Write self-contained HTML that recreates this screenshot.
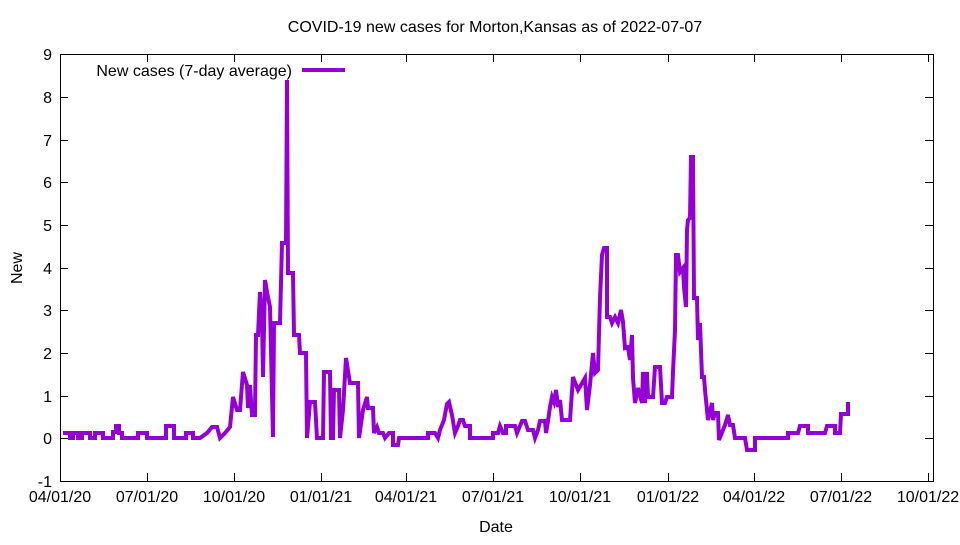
<!DOCTYPE html>
<html><head><meta charset="utf-8"><style>body{margin:0;background:#fff}</style></head><body>
<svg width="960" height="540" xmlns="http://www.w3.org/2000/svg" font-family="Liberation Sans, sans-serif" font-size="16">
<rect width="960" height="540" fill="#fff"/>
<text x="495" y="32" text-anchor="middle">COVID-19 new cases for Morton,Kansas as of 2022-07-07</text>
<g stroke="#000" stroke-width="1" fill="none">
<rect x="60.5" y="54.5" width="873" height="427"/>
<path d="M60 481.5h8M60 438.5h8M60 396.5h8M60 353.5h8M60 310.5h8M60 268.5h8M60 225.5h8M60 182.5h8M60 140.5h8M60 97.5h8M60 54.5h8
M933 481.5h-8M933 438.5h-8M933 396.5h-8M933 353.5h-8M933 310.5h-8M933 268.5h-8M933 225.5h-8M933 182.5h-8M933 140.5h-8M933 97.5h-8M933 54.5h-8
M147.5 481v-8M234.5 481v-8M321.5 481v-8M406.5 481v-8M493.5 481v-8M580.5 481v-8M668.5 481v-8M754.5 481v-8M841.5 481v-8M928.5 481v-8
M147.5 54v8M234.5 54v8M321.5 54v8M406.5 54v8M493.5 54v8M580.5 54v8M668.5 54v8M754.5 54v8M841.5 54v8M928.5 54v8"/>
</g>
<g text-anchor="end">
<text x="52" y="487">-1</text><text x="52" y="444">0</text><text x="52" y="402">1</text><text x="52" y="359">2</text><text x="52" y="316">3</text><text x="52" y="274">4</text><text x="52" y="231">5</text><text x="52" y="188">6</text><text x="52" y="146">7</text><text x="52" y="103">8</text><text x="52" y="60">9</text>
</g>
<g text-anchor="middle">
<text x="60" y="502">04/01/20</text><text x="147" y="502">07/01/20</text><text x="234" y="502">10/01/20</text><text x="321" y="502">01/01/21</text><text x="406" y="502">04/01/21</text><text x="493" y="502">07/01/21</text><text x="580" y="502">10/01/21</text><text x="668" y="502">01/01/22</text><text x="754" y="502">04/01/22</text><text x="841" y="502">07/01/22</text><text x="928" y="502">10/01/22</text>
<text x="496" y="532">Date</text>
</g>
<text x="22" y="268" text-anchor="middle" transform="rotate(-90 22 268)">New</text>
<text x="292" y="76" text-anchor="end">New cases (7-day average)</text>
<path d="M302 70H345" stroke="#9400d3" stroke-width="4"/>
<polyline fill="none" stroke="#9400d3" stroke-width="4" stroke-linejoin="miter" points="63,433 70,433 70,438 73,438 73,433 78,433 78,438 82,438 82,433 90,433 90,438 95,438 95,433 103,433 103,438 113,438 113,432 116,432 116,426 119,426 119,433 122,433 122,438 138,438 138,433 147,433 147,438 166,438 166,426 174,426 174,438 186,438 186,433 193,433 193,438 200,438 207,433 212,427 217,427 220,438 225,433 230,427 233,397 237,410 240,410 243,372 247,385 248,408 250,385 252,415 255,415 256,335 258,335 260,292 262,320 263,377 265,280 267,292 270,307 273,437 274,323 280,323 282,243 286,243 287,80 288,273 293,273 294,335 299,335 300,353 306,353 307,438 310,402 315,402 317,438 323,438 324,372 330,372 331,438 333,438 334,390 339,390 340,438 343,410 346,358 350,383 353,383 358,383 359,438 363,410 367,397 368,408 373,408 374,433 377,427 379,433 383,433 385,438 389,433 393,433 393,445 398,445 399,438 428,438 428,433 435,433 438,438 440,430 444,420 447,404 449,402 452,415 455,433 458,426 460,420 463,420 465,426 470,426 470,438 493,438 493,433 498,433 500,426 503,433 506,433 506,426 515,426 517,433 520,426 522,421 525,421 528,430 533,430 535,438 538,430 540,421 545,421 546,433 548,421 550,407 552,397 554,402 556,390 558,407 560,400 562,420 570,420 573,377 578,390 585,378 587,410 590,385 593,353 595,373 598,370 600,298 602,255 604,248 607,248 607,317 610,317 612,323 615,317 618,323 621,310 623,322 625,348 628,347 630,360 632,335 633,378 635,403 638,388 642,403 643,372 645,403 647,372 648,397 653,397 655,367 660,367 662,403 665,403 667,397 672,397 673,372 675,330 676,255 678,255 680,272 683,268 684,287 686,307 687,230 688,220 690,218 691,157 693,157 694,298 697,298 698,340 700,323 702,377 704,377 705,390 708,420 712,403 713,420 715,413 718,413 719,440 723,430 725,425 728,415 730,425 733,425 735,438 745,438 747,450 755,450 755,438 788,438 788,433 798,433 800,426 808,426 808,433 825,433 827,426 835,426 835,433 840,433 841,414 848,414 848,402"/>
</svg>
</body></html>
